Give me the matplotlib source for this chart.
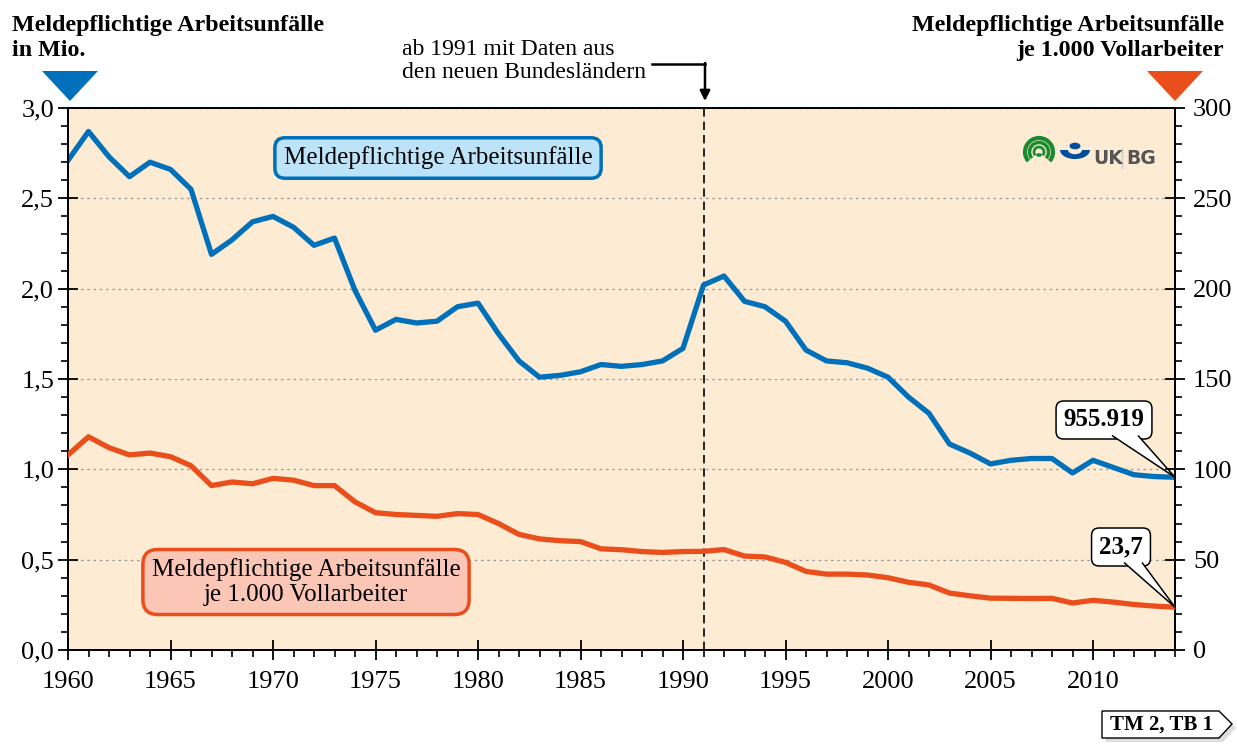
import matplotlib
matplotlib.use("Agg")
import matplotlib.pyplot as plt
from matplotlib.patches import Polygon, Arc, Wedge, Circle
from matplotlib.ticker import MultipleLocator, FuncFormatter

plt.rcParams["font.family"] = ["Liberation Serif", "DejaVu Serif"]

# Daten
jahre = list(range(1960, 2015))
unfaelle_mio = [2.71, 2.87, 2.73, 2.62, 2.70, 2.66, 2.55, 2.19, 2.27, 2.37,
                2.40, 2.34, 2.24, 2.28, 1.99, 1.77, 1.83, 1.81, 1.82, 1.90,
                1.92, 1.75, 1.60, 1.51, 1.52, 1.54, 1.58, 1.57, 1.58, 1.60,
                1.67, 2.02, 2.07, 1.93, 1.90, 1.82, 1.66, 1.60, 1.59, 1.56,
                1.51, 1.40, 1.31, 1.14, 1.09, 1.03, 1.05, 1.06, 1.06, 0.98,
                1.05, 1.01, 0.97, 0.96, 0.956]
je_1000 = [108, 118, 112, 108, 109, 107, 102, 91, 93, 92,
           95, 94, 91, 91, 82, 76, 75, 74.5, 74, 75.5,
           75, 70, 64, 61.5, 60.5, 60, 56, 55.5, 54.5, 54,
           54.5, 54.6, 55.6, 52, 51.5, 48.5, 43.5, 42, 42, 41.5,
           40, 37.5, 36, 31.5, 30, 28.7, 28.6, 28.5, 28.6, 26,
           27.5, 26.5, 25.2, 24.3, 23.7]

BLAU = "#0070ba"
ROT = "#e94e1b"
BG = "#fdebd3"

W, H = 1237, 745
fig = plt.figure(figsize=(W / 100, H / 100), dpi=100)


def px(x, y):
    """Pixel (von oben links) -> Figure-Koordinaten."""
    return x / W, 1 - y / H


ax = fig.add_axes([68 / W, 95 / H, 1107 / W, 542 / H])
ax.set_facecolor(BG)
ax.set_xlim(1960, 2014)
ax.set_ylim(0, 3.0)
ax.yaxis.set_major_locator(MultipleLocator(0.5))
ax.yaxis.set_minor_locator(MultipleLocator(0.1))
ax.xaxis.set_major_locator(MultipleLocator(5))
ax.xaxis.set_minor_locator(MultipleLocator(1))
ax.yaxis.set_major_formatter(FuncFormatter(lambda v, p: f"{v:.1f}".replace(".", ",")))
ax.tick_params(which="major", direction="inout", length=14, width=1.3, labelsize=19, pad=3)
ax.tick_params(axis="x", which="major", pad=8)
ax.tick_params(which="minor", direction="out", length=5, width=1.2)
ax.grid(axis="y", which="major", color="#999999", linestyle=(0, (2, 3)), linewidth=0.9)
for s in ax.spines.values():
    s.set_linewidth(1.3)

ax.plot(jahre, unfaelle_mio, color=BLAU, lw=3.8, zorder=3)
ax.axvline(1991, color="black", lw=1.2, linestyle=(0, (5, 3)), zorder=2)

ax2 = ax.twinx()
ax2.set_ylim(0, 300)
ax2.yaxis.set_major_locator(MultipleLocator(50))
ax2.yaxis.set_minor_locator(MultipleLocator(10))
ax2.tick_params(which="major", direction="inout", length=14, width=1.3, labelsize=19, pad=6)
ax2.tick_params(which="minor", direction="out", length=5, width=1.2)
ax2.plot(jahre, je_1000, color=ROT, lw=3.8, zorder=3)
for s in ax2.spines.values():
    s.set_linewidth(1.3)

# Label-Boxen
ax.text(*px(438, 158), "Meldepflichtige Arbeitsunfälle", transform=fig.transFigure,
        ha="center", va="center", fontsize=18,
        bbox=dict(boxstyle="round,pad=0.35,rounding_size=0.4", fc="#bde3f8", ec=BLAU, lw=2.5))
ax.text(*px(306, 582), "Meldepflichtige Arbeitsunfälle\nje 1.000 Vollarbeiter",
        transform=fig.transFigure, ha="center", va="center", fontsize=18, linespacing=1.15,
        bbox=dict(boxstyle="round,pad=0.35,rounding_size=0.6", fc="#fbc6b6", ec=ROT, lw=2.5))


def callout(achse, x, y, text, mitte, unten, keil):
    """Sprechblase mit Keil zum Datenpunkt."""
    ziel = fig.transFigure.inverted().transform(achse.transData.transform((x, y)))
    achse.text(*px(*mitte), text, transform=fig.transFigure, ha="center", va="center",
               fontsize=18, fontweight="bold", zorder=5,
               bbox=dict(boxstyle="round,pad=0.3", fc="white", ec="black", lw=1.1))
    achse.add_patch(Polygon([px(keil[0], unten - 1.5), tuple(ziel), px(keil[1], unten - 1.5)],
                            closed=False, transform=fig.transFigure, fc="white",
                            ec="black", lw=1.1, zorder=6, clip_on=False))


callout(ax, jahre[-1], unfaelle_mio[-1], "955.919", (1104, 420), 437, (1112, 1138))
callout(ax2, jahre[-1], je_1000[-1], "23,7", (1121, 547), 564, (1124, 1142))

# Titel
fig.text(*px(12, 38), "Meldepflichtige Arbeitsunfälle\nin Mio.", ha="left", va="center",
         fontsize=17.3, fontweight="bold", linespacing=1.2)
fig.text(*px(1224, 38), "Meldepflichtige Arbeitsunfälle\nje 1.000 Vollarbeiter", ha="right",
         va="center", fontsize=17.3, fontweight="bold", linespacing=1.3)

# Dreiecke
fig.patches.append(Polygon([px(42, 71), px(98, 71), px(70, 101)], closed=True,
                           transform=fig.transFigure, fc=BLAU, ec="none"))
fig.patches.append(Polygon([px(1147, 71), px(1203, 71), px(1175, 101)], closed=True,
                           transform=fig.transFigure, fc=ROT, ec="none"))

# Hinweis 1991
fig.text(*px(402, 61), "ab 1991 mit Daten aus\nden neuen Bundesländern", ha="left", va="center",
         fontsize=17, linespacing=1.15)
fig.lines.append(plt.Line2D([px(652, 0)[0], px(705, 0)[0]], [px(0, 64)[1]] * 2,
                            transform=fig.transFigure, color="black", lw=1.8))
ax.annotate("", xy=px(705, 101), xytext=px(705, 63), xycoords="figure fraction",
            textcoords="figure fraction",
            arrowprops=dict(arrowstyle="-|>,head_length=0.6,head_width=0.3", color="black",
                            lw=1.8, shrinkA=0, shrinkB=0))

# Logo
gx, gy = px(1039, 152)
for r, lw in [(14, 3), (9.5, 2.5), (5, 2)]:
    fig.patches.append(Arc((gx, gy), 2 * r / W, 2 * r / H, theta1=-55, theta2=235,
                           transform=fig.transFigure, color="#1a8a2e", lw=lw))
fig.patches.append(Circle((gx, gy - 3 / H), 3 / W, transform=fig.transFigure, fc="#1a8a2e"))
bx, by = px(1075, 150)
fig.patches.append(Wedge((bx, by), 15 / W, 180, 360, width=8 / W, transform=fig.transFigure,
                         fc="#004f9f"))
fig.patches.append(Circle(px(1075, 146), 5.5 / W, transform=fig.transFigure, fc="#004f9f"))
fig.text(*px(1093, 159), "UK", ha="left", va="center", fontsize=13.5, fontweight="bold",
         color="#555555", family="DejaVu Sans")
fig.lines.append(plt.Line2D([px(1122, 0)[0]] * 2, [px(0, 148)[1], px(0, 168)[1]],
                            transform=fig.transFigure, color="#cccccc", lw=1))
fig.text(*px(1126, 159), "BG", ha="left", va="center", fontsize=13.5, fontweight="bold",
         color="#555555", family="DejaVu Sans")

# TM-Kennung
fig.patches.append(Polygon([px(1106, 715), px(1223, 715), px(1236, 728), px(1223, 742),
                            px(1106, 742)], closed=True, transform=fig.transFigure,
                           fc="#dddddd", ec="none"))
fig.patches.append(Polygon([px(1102, 711), px(1219, 711), px(1232, 724), px(1219, 738),
                            px(1102, 738)], closed=True, transform=fig.transFigure,
                           fc="white", ec="black", lw=1))
fig.text(*px(1162, 725), "TM 2, TB 1", ha="center", va="center", fontsize=15,
         fontweight="bold")

fig.savefig("out.png", dpi=100)
